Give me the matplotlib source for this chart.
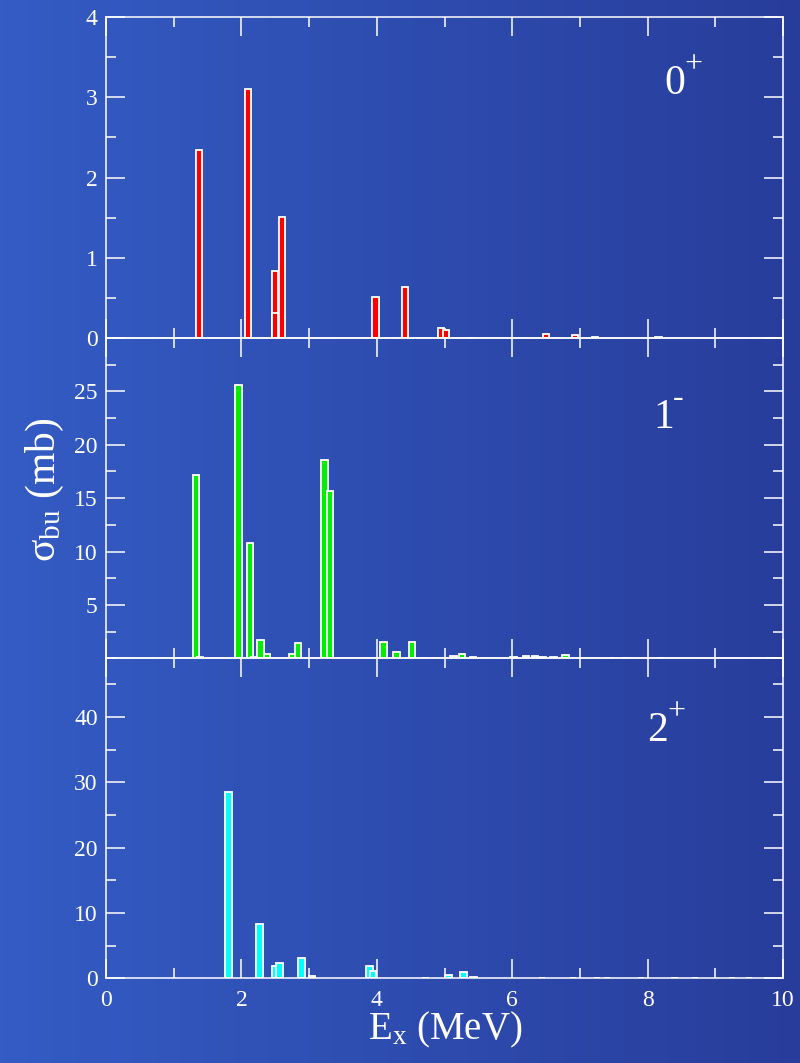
"""
Breakup cross sections by multipolarity (0+, 1-, 2+) vs excitation energy.
"""

import matplotlib
matplotlib.use("Agg")
import matplotlib.pyplot as plt
import numpy as np
from matplotlib.colors import LinearSegmentedColormap
from matplotlib.ticker import MultipleLocator, FixedLocator

# ── Data ─────────────────────────────────────────────────────────────────────
E_0p = [1.37, 2.10, 2.50, 2.50, 2.60, 3.98, 4.42, 4.95, 5.02, 5.40, 6.50, 6.93, 7.22, 8.16]
S_0p = [2.34, 3.10, 0.83, 0.31, 1.51, 0.515, 0.64, 0.128, 0.10, 0.005, 0.045, 0.035, 0.01, 0.015]

E_1m = [1.33, 1.39, 1.96, 2.13, 2.19, 2.28, 2.38, 2.75, 2.84, 3.23, 3.31, 4.10, 4.29,
        4.52, 4.70, 5.13, 5.26, 5.42, 6.02, 6.20, 6.34, 6.45, 6.61, 6.79, 7.47, 7.67,
        8.20, 9.80]
S_1m = [17.2, 0.1, 25.6, 10.8, 0.1, 1.73, 0.42, 0.42, 1.48, 18.6, 15.7, 1.54, 0.55,
        1.51, 0.05, 0.2, 0.39, 0.15, 0.1, 0.2, 0.2, 0.1, 0.1, 0.3, 0.02, 0.02,
        0.02, 0.02]

E_2p = [1.81, 2.27, 2.50, 2.56, 2.89, 3.04, 3.89, 3.94, 4.72, 5.06, 5.28, 5.43, 6.44,
        6.90, 7.25, 7.40, 7.90, 8.40, 8.70, 9.25, 9.50]
S_2p = [28.6, 8.36, 1.95, 2.36, 3.07, 0.43, 1.95, 1.19, 0.05, 0.57, 0.98, 0.3, 0.15,
        0.15, 0.03, 0.03, 0.03, 0.03, 0.03, 0.03, 0.03]

PANEL_J = ["0", "1", "2"]
PANEL_PI = ["+", "-", "+"]
YTICKS = [[0, 1, 2, 3, 4], [5, 10, 15, 20, 25], [0, 10, 20, 30, 40]]
XTICKS = [0, 2, 4, 6, 8, 10]

# ── Style ────────────────────────────────────────────────────────────────────
plt.rcParams["font.family"] = ["Liberation Serif", "DejaVu Serif"]
plt.rcParams["mathtext.default"] = "regular"
WHITE = "white"

fig = plt.figure(figsize=(8, 10.63), dpi=100)

# background gradient
bg = fig.add_axes([0, 0, 1, 1], zorder=-10)
cmap = LinearSegmentedColormap.from_list("bg", ["#345cc4", "#283d9b"])
bg.imshow(np.linspace(0, 1, 256)[None, :], aspect="auto", cmap=cmap,
          extent=[0, 1, 0, 1])
bg.axis("off")

left, width = 0.1325, 0.8463
bounds = [(0.682, 0.302), (0.3807, 0.3013), (0.0795, 0.3012)]
panels = [
    (E_0p, S_0p, "#ff0000", (0, 4), 0.5),
    (E_1m, S_1m, "#00ee00", (0, 30), 2.5),
    (E_2p, S_2p, "#00ffff", (0, 49), 5),
]
label_pos = [(8.24, 3.04), (8.08, 21.6), (7.99, 36.4)]

for i, ((E, S, color, ylim, yminor), (b, h)) in enumerate(zip(panels, bounds)):
    ax = fig.add_axes([left, b, width, h])
    ax.set_facecolor("none")
    ax.bar(E, S, width=0.095, color=color, edgecolor=WHITE, linewidth=1.3,
           align="center", zorder=2)
    ax.set_xlim(0, 10)
    ax.set_ylim(*ylim)

    ax.xaxis.set_major_locator(MultipleLocator(2))
    ax.xaxis.set_minor_locator(MultipleLocator(1))
    ax.yaxis.set_major_locator(FixedLocator(YTICKS[i]))
    ax.yaxis.set_minor_locator(MultipleLocator(yminor))

    ax.tick_params(which="both", direction="in", top=True, right=True,
                   colors=WHITE, width=1.1, labelsize=17)
    ax.tick_params(which="major", length=14)
    ax.tick_params(which="minor", length=7)
    ax.tick_params(axis="y", pad=6)
    ax.tick_params(axis="x", pad=8)
    for sp in ax.spines.values():
        sp.set_color(WHITE)
        sp.set_linewidth(1.1)

    if i < 2:
        ax.tick_params(axis="x", labelbottom=False)
    else:
        ax.set_xticks(XTICKS)

    # J^pi label: big digit + small raised parity sign
    x0, y0 = label_pos[i]
    ax.text(x0, y0, PANEL_J[i], color=WHITE, fontsize=30,
            ha="left", va="baseline")
    ax.annotate(PANEL_PI[i], xy=(x0, y0), xytext=(14.5, 15.5),
                textcoords="offset points", color=WHITE, fontsize=23,
                ha="left", va="baseline")

fig.text(0.056, 1 - 490 / 1063, r"$\sigma_{bu}$ (mb)", color=WHITE,
         fontsize=30, rotation=90, ha="center", va="center")
fig.text(445 / 800, 1 - 1030 / 1063, r"$E_{x}$ (MeV)", color=WHITE,
         fontsize=28, ha="center", va="center")

fig.savefig("out.png", dpi=100)
plt.close(fig)
